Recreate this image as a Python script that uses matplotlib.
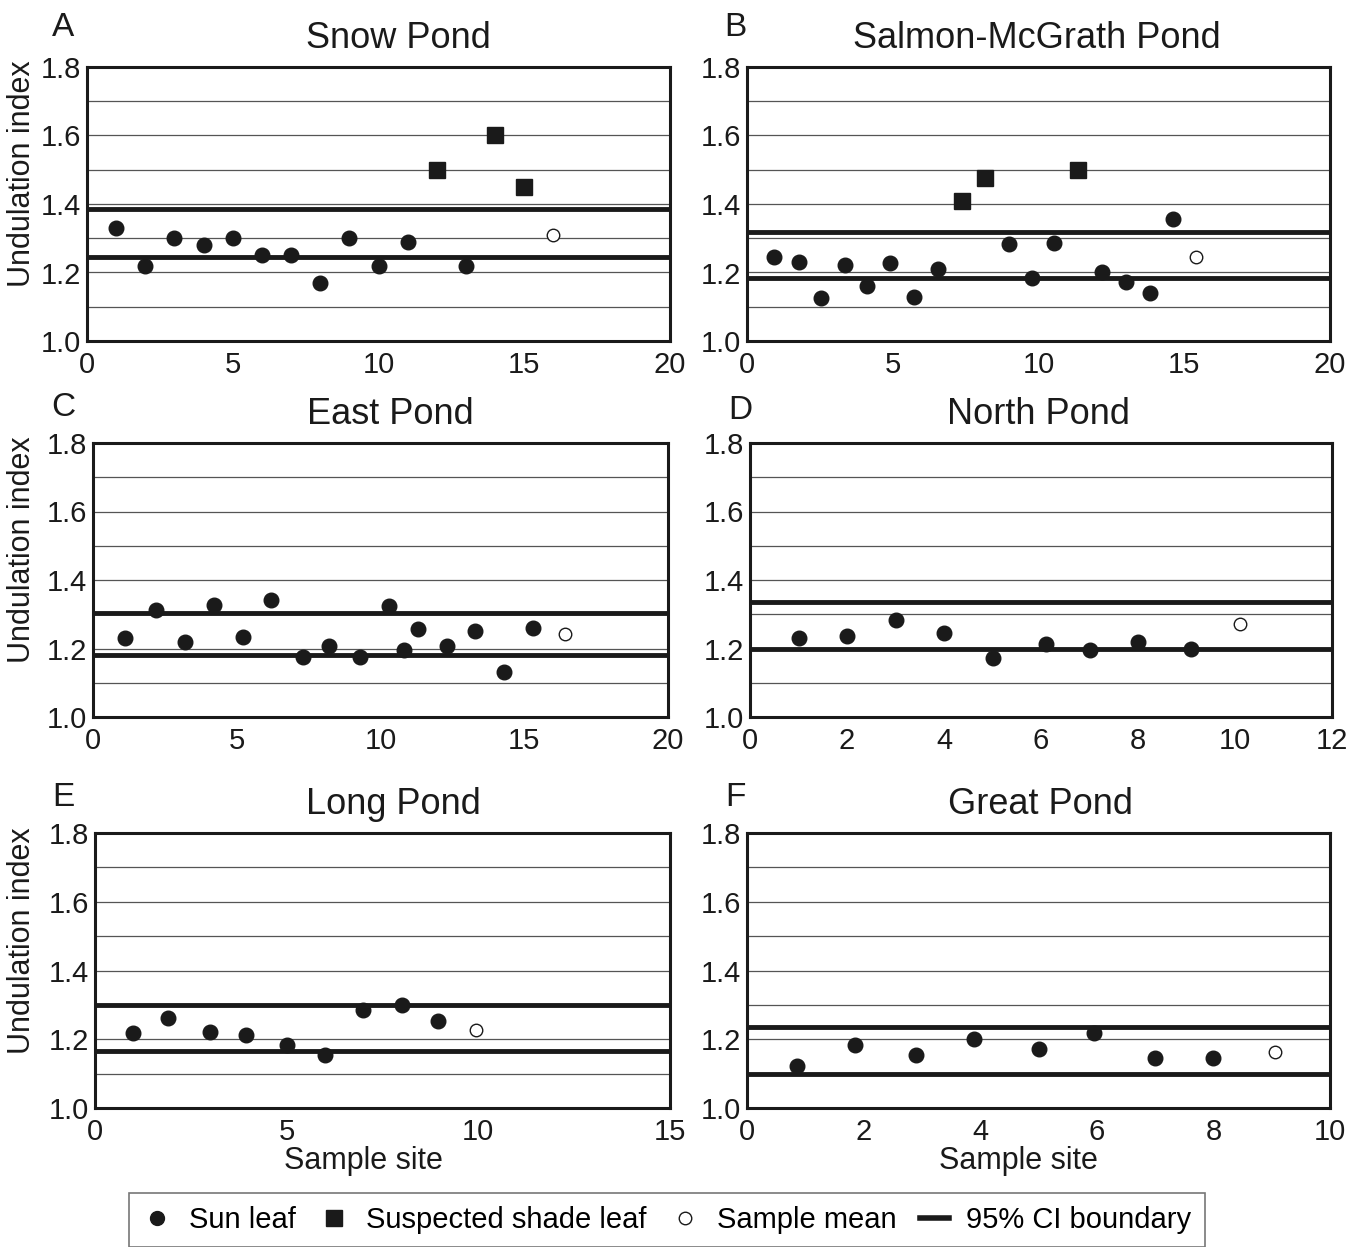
import matplotlib.pyplot as plt
from matplotlib.lines import Line2D

plt.rcParams['font.family'] = ['Liberation Sans', 'DejaVu Sans']

# panel data
titles = ['Snow Pond', 'Salmon-McGrath Pond', 'East Pond', 'North Pond', 'Long Pond', 'Great Pond']
letters = ['A', 'B', 'C', 'D', 'E', 'F']
xmax = [20, 20, 20, 12, 15, 10]
xticks_step = [5, 5, 5, 2, 5, 2]

sun_x = [
    [1, 2, 3, 4, 5, 6, 7, 8, 9, 10, 11, 13],
    [0.93, 1.77, 2.55, 3.35, 4.1, 4.9, 5.72, 6.55, 8.98, 9.77, 10.54, 12.19, 13.0, 13.81, 14.62],
    [1.1, 2.2, 3.2, 4.2, 5.2, 6.2, 7.3, 8.2, 9.3, 10.3, 10.8, 11.3, 12.3, 13.3, 14.3, 15.3],
    [1, 2, 3, 4, 5, 6.1, 7, 8, 9.1],
    [1, 1.9, 3, 3.95, 5, 6, 7, 8, 8.95],
    [0.85, 1.85, 2.9, 3.9, 5.0, 5.95, 7.0, 8.0],
]
sun_y = [
    [1.33, 1.22, 1.30, 1.28, 1.30, 1.25, 1.25, 1.17, 1.30, 1.22, 1.29, 1.22],
    [1.244, 1.230, 1.126, 1.221, 1.162, 1.228, 1.128, 1.210, 1.282, 1.185, 1.287, 1.200, 1.173, 1.140, 1.356],
    [1.232, 1.312, 1.218, 1.328, 1.235, 1.343, 1.174, 1.206, 1.174, 1.324, 1.196, 1.257, 1.206, 1.251, 1.130, 1.261],
    [1.232, 1.237, 1.282, 1.246, 1.171, 1.214, 1.197, 1.219, 1.20],
    [1.217, 1.261, 1.221, 1.211, 1.183, 1.153, 1.284, 1.30, 1.254],
    [1.121, 1.183, 1.154, 1.201, 1.172, 1.218, 1.146, 1.146],
]
shade_x = [[12, 14, 15], [7.36, 8.15, 11.37], [], [], [], []]
shade_y = [[1.50, 1.60, 1.45], [1.409, 1.477, 1.50], [], [], [], []]
mean_x = [16, 15.4, 16.4, 10.1, 9.95, 9.05]
mean_y = [1.31, 1.245, 1.243, 1.272, 1.227, 1.164]
ci_low = [1.245, 1.185, 1.18, 1.20, 1.167, 1.10]
ci_high = [1.385, 1.317, 1.305, 1.335, 1.30, 1.235]

W, H = 1347, 1247
# axes boxes in pixels: left, top, right, bottom
boxes = [(87, 67, 670, 341), (747, 67, 1330, 341),
         (93, 443, 668, 717), (750, 443, 1332, 717),
         (95, 833, 670, 1108), (747, 833, 1330, 1108)]
title_cx = [398, 1037, 390, 1038, 393, 1040]
letter_pos = [(63, 28), (735, 28), (63, 408), (740, 410), (63, 797), (735, 797)]

fig = plt.figure(figsize=(W / 100, H / 100), dpi=100)

for i in range(6):
    l, t, r, b = boxes[i]
    ax = fig.add_axes([l / W, 1 - b / H, (r - l) / W, (b - t) / H])
    ax.set_xlim(0, xmax[i])
    ax.set_ylim(1.0, 1.8)
    for g in [1.1, 1.2, 1.3, 1.4, 1.5, 1.6, 1.7]:
        ax.axhline(g, color='#555555', lw=0.9, zorder=1)
    ax.axhline(ci_low[i], color='#1a1a1a', lw=3.5, zorder=2)
    ax.axhline(ci_high[i], color='#1a1a1a', lw=3.5, zorder=2)
    ax.plot(sun_x[i], sun_y[i], 'o', color='#1a1a1a', ms=10.5, ls='none', zorder=3)
    if shade_x[i]:
        ax.plot(shade_x[i], shade_y[i], 's', color='#1a1a1a', ms=12, ls='none', zorder=3)
    ax.plot([mean_x[i]], [mean_y[i]], 'o', mfc='white', mec='#1a1a1a', mew=1.0, ms=9,
            ls='none', zorder=3)
    ax.set_xticks(range(0, xmax[i] + 1, xticks_step[i]))
    ax.set_yticks([1.0, 1.2, 1.4, 1.6, 1.8])
    ax.set_yticklabels(['1.0', '1.2', '1.4', '1.6', '1.8'])
    ax.tick_params(length=0, labelsize=21, colors='#1a1a1a')
    ax.tick_params(axis='x', pad=7)
    ax.tick_params(axis='y', pad=4)
    for s in ax.spines.values():
        s.set_linewidth(2.2)
        s.set_color('#1a1a1a')
    ax.set_title(titles[i], fontsize=26, pad=14, color='#1a1a1a',
                 x=(title_cx[i] - l) / (r - l))
    if i % 2 == 0:
        ax.set_ylabel('Undulation index', fontsize=22, color='#1a1a1a')
        ax.yaxis.set_label_coords((37 - l) / (r - l), 0.61)
    if i >= 4:
        ax.set_xlabel('Sample site', fontsize=22, color='#1a1a1a')
        ax.xaxis.set_label_coords(0.466, (b - 1146) / (b - t))
    fig.text(letter_pos[i][0] / W, 1 - letter_pos[i][1] / H, letters[i], fontsize=24,
             ha='center', va='center', color='#1a1a1a')

handles = [
    Line2D([], [], marker='o', color='#1a1a1a', ls='none', ms=10),
    Line2D([], [], marker='s', color='#1a1a1a', ls='none', ms=11),
    Line2D([], [], marker='o', mfc='white', mec='#1a1a1a', ls='none', ms=9),
    Line2D([], [], color='#1a1a1a', lw=4),
]
labels = ['Sun leaf', 'Suspected shade leaf', 'Sample mean', '95% CI boundary']
leg = fig.legend(handles, labels, loc='lower center', bbox_to_anchor=(667 / W, -0.012),
                 ncol=4, fontsize=21, frameon=True, fancybox=False, handlelength=1.0,
                 handletextpad=0.6, columnspacing=0.8, borderpad=0.45)
leg.get_frame().set_edgecolor('#555555')
leg.get_frame().set_linewidth(1.2)

fig.savefig('out.png', dpi=100)
